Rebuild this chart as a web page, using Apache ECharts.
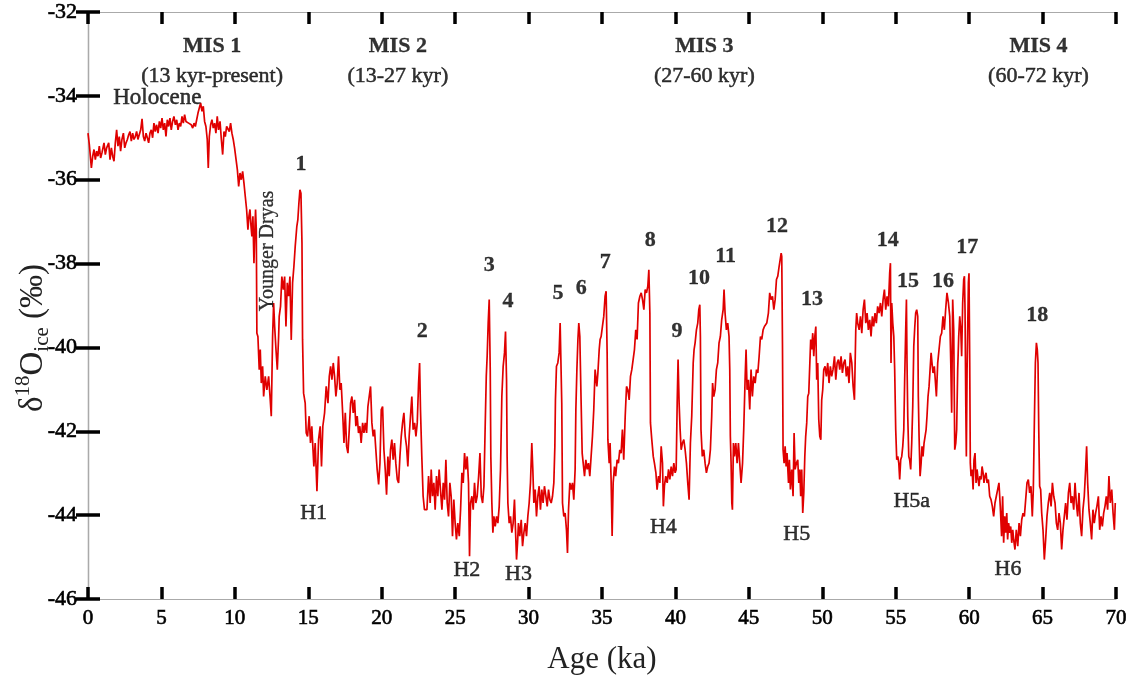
<!DOCTYPE html>
<html><head><meta charset="utf-8">
<script src="https://cdn.jsdelivr.net/npm/echarts@6/dist/echarts.min.js"></script>
<style>html,body{margin:0;padding:0;background:#fff}#c{width:1130px;height:682px}</style>
</head><body><div id="c"></div><script>
// ---- record: [age ka, d18O permil] ----
const holocene = [[0,-34.89],[0.09,-35.16],[0.23,-35.72],[0.32,-35.44],[0.41,-35.28],[0.5,-35.52],[0.59,-35.32],[0.68,-35.44],[0.77,-35.2],[0.86,-35.48],[0.95,-35.36],[1.09,-35.12],[1.18,-35.4],[1.27,-35.24],[1.41,-35.12],[1.5,-35.52],[1.59,-35.24],[1.68,-35.44],[1.77,-35.56],[1.86,-35.12],[1.95,-34.81],[2.04,-35.2],[2.13,-34.97],[2.22,-35.32],[2.31,-35.04],[2.41,-34.89],[2.5,-35.24],[2.59,-35.12],[2.68,-35.04],[2.77,-34.93],[2.86,-34.85],[2.95,-35.08],[3.04,-34.89],[3.13,-35.04],[3.22,-34.97],[3.31,-34.85],[3.4,-35.04],[3.49,-34.93],[3.59,-34.81],[3.68,-34.55],[3.77,-34.97],[3.86,-35.08],[3.95,-34.89],[4.04,-35.0],[4.13,-35.12],[4.22,-34.89],[4.31,-34.81],[4.4,-35.0],[4.49,-34.65],[4.58,-34.85],[4.67,-34.69],[4.77,-34.89],[4.86,-34.61],[4.95,-34.77],[5.04,-34.53],[5.13,-34.81],[5.22,-34.65],[5.31,-34.97],[5.4,-34.57],[5.49,-34.73],[5.58,-34.53],[5.67,-34.81],[5.76,-34.61],[5.85,-34.49],[5.95,-34.69],[6.04,-34.57],[6.13,-34.81],[6.22,-34.65],[6.31,-34.73],[6.4,-34.49],[6.49,-34.65],[6.58,-34.45],[6.67,-34.61],[6.76,-34.57],[6.85,-34.65],[6.94,-34.61],[7.03,-34.69],[7.13,-34.77],[7.22,-34.65],[7.31,-34.73],[7.4,-34.57],[7.49,-34.41],[7.58,-34.29],[7.67,-34.17],[7.76,-34.37],[7.85,-34.25],[7.94,-34.61],[8.03,-34.73],[8.12,-35.04],[8.19,-35.72],[8.26,-34.97],[8.35,-34.69],[8.44,-34.57],[8.53,-34.77],[8.62,-34.65],[8.71,-34.89],[8.8,-34.49],[8.89,-34.81],[8.99,-34.61],[9.08,-35.04],[9.17,-35.4],[9.26,-34.85],[9.35,-34.97],[9.44,-34.73],[9.53,-34.77],[9.62,-34.85],[9.71,-34.65],[9.8,-34.89],[9.89,-35.04],[9.98,-35.24],[10.07,-35.28],[10.17,-35.76],[10.26,-36.16],[10.35,-35.84],[10.44,-36.0],[10.53,-35.8],[10.62,-36.08],[10.71,-36.4],[10.8,-36.71],[10.89,-37.19],[10.96,-36.87],[11.03,-36.71],[11.1,-37.11],[11.16,-37.35],[11.23,-36.87],[11.3,-37.99],[11.37,-37.11],[11.41,-36.71],[11.46,-37.19]];
const deglacial = [[11.5,-39.66],[11.57,-39.74],[11.66,-40.53],[11.73,-40.05],[11.8,-40.85],[11.89,-40.45],[11.96,-41.17],[12.07,-40.69],[12.18,-41.01],[12.3,-40.69],[12.41,-41.25],[12.48,-41.64],[12.57,-39.74],[12.64,-38.94],[12.71,-39.5],[12.8,-40.05],[12.89,-40.53],[12.98,-39.74],[13.02,-39.26],[13.11,-39.02],[13.2,-38.31],[13.3,-38.62],[13.39,-38.31],[13.48,-39.5],[13.57,-38.46],[13.66,-38.78],[13.75,-38.31],[13.84,-39.82],[13.93,-38.46],[14.02,-38.07],[14.11,-37.59],[14.22,-37.11],[14.29,-36.95],[14.36,-36.56],[14.43,-36.24],[14.5,-36.32],[14.57,-37.51],[14.61,-39.82],[14.68,-41.09],[14.79,-41.33],[14.86,-42.04],[14.95,-42.12],[15.06,-41.64],[15.15,-42.28],[15.24,-41.88],[15.31,-42.36],[15.38,-42.84],[15.47,-42.28],[15.59,-43.43],[15.7,-42.2],[15.81,-41.88],[15.9,-42.84],[15.99,-41.88],[16.11,-41.56],[16.22,-40.93],[16.34,-41.33],[16.43,-40.69],[16.52,-40.45],[16.61,-40.77],[16.7,-40.37],[16.79,-40.69],[16.88,-41.17],[16.97,-40.85],[17.06,-40.21],[17.15,-41.01],[17.24,-40.85],[17.34,-41.56],[17.43,-42.28],[17.52,-41.56],[17.61,-42.36],[17.7,-42.52],[17.79,-41.96],[17.88,-41.33],[17.97,-41.17],[18.06,-41.56],[18.15,-41.25],[18.24,-41.88],[18.33,-41.64],[18.42,-42.04],[18.51,-41.88],[18.6,-42.28],[18.7,-41.8],[18.79,-42.04],[18.88,-41.8],[18.97,-42.04],[19.06,-41.41],[19.15,-41.17],[19.24,-40.93],[19.33,-41.8],[19.42,-42.12],[19.51,-41.96],[19.6,-42.44],[19.69,-42.91],[19.79,-43.27],[19.88,-42.76],[19.97,-41.48],[20.06,-41.41],[20.15,-42.44],[20.24,-42.91],[20.33,-43.51],[20.42,-42.6],[20.51,-43.07],[20.6,-42.44],[20.69,-42.2],[20.78,-42.68],[20.87,-42.28],[20.96,-42.76],[21.06,-43.15],[21.15,-43.23],[21.24,-42.6],[21.33,-42.12],[21.42,-41.8],[21.51,-41.56],[21.6,-42.12],[21.69,-42.36],[21.78,-42.84],[21.87,-42.12],[21.96,-41.64],[22.05,-41.17],[22.14,-41.96],[22.24,-41.8],[22.33,-42.12],[22.42,-41.8],[22.51,-40.85],[22.58,-40.37],[22.64,-41.48],[22.73,-42.6],[22.82,-43.55],[22.91,-43.87]];
const mis3early = [[23.08,-43.87],[23.19,-43.07],[23.3,-43.71],[23.37,-42.91],[23.46,-43.55],[23.55,-43.23],[23.64,-43.87],[23.73,-43.07],[23.82,-43.55],[23.91,-42.91],[24.0,-43.39],[24.1,-43.87],[24.19,-43.23],[24.28,-43.63],[24.37,-42.68],[24.46,-43.71],[24.55,-44.03],[24.64,-43.23],[24.73,-43.55],[24.82,-44.5],[24.91,-43.63],[25.0,-44.19],[25.09,-44.58],[25.18,-44.19],[25.28,-44.5],[25.37,-43.87],[25.46,-42.99],[25.55,-43.23],[25.64,-42.52],[25.73,-42.91],[25.82,-42.6],[25.91,-43.23],[25.98,-44.98],[26.05,-43.71],[26.14,-43.55],[26.23,-43.87],[26.32,-43.23],[26.41,-43.71],[26.5,-43.55],[26.6,-43.07],[26.69,-42.52],[26.78,-43.55],[26.87,-43.71],[26.96,-43.31],[27.05,-41.8],[27.12,-40.69],[27.18,-40.21],[27.25,-39.42],[27.32,-38.86],[27.39,-40.53],[27.43,-42.6],[27.5,-43.71],[27.57,-44.42],[27.64,-44.03],[27.73,-44.27],[27.82,-44.03],[27.91,-44.19],[28.0,-43.79],[28.09,-42.91],[28.18,-41.17],[28.27,-40.45],[28.36,-40.13],[28.43,-39.62],[28.5,-40.77],[28.54,-42.6],[28.59,-43.71],[28.68,-44.19],[28.77,-44.03],[28.86,-44.42],[28.95,-44.19],[29.04,-43.63],[29.11,-44.35],[29.18,-45.06],[29.25,-44.66],[29.31,-44.19],[29.4,-44.5],[29.5,-44.11],[29.59,-44.74],[29.68,-44.42],[29.77,-44.19],[29.86,-44.5],[29.95,-44.03],[30.04,-43.71],[30.13,-43.23],[30.22,-42.28],[30.29,-42.91],[30.36,-43.71],[30.45,-43.39],[30.54,-44.03],[30.63,-43.55],[30.72,-43.31],[30.81,-43.87],[30.9,-43.39],[30.99,-43.71],[31.08,-43.31],[31.18,-43.55],[31.27,-43.79],[31.36,-43.39],[31.45,-43.63],[31.54,-43.71],[31.63,-43.55],[31.72,-43.23],[31.79,-42.36],[31.83,-41.25],[31.9,-40.45],[31.99,-40.37],[32.08,-40.13],[32.15,-39.42],[32.22,-39.42],[32.26,-41.33],[32.31,-43.71],[32.4,-44.03],[32.49,-43.95],[32.58,-44.35],[32.65,-44.9],[32.72,-43.87],[32.81,-43.23],[32.9,-43.39],[32.99,-43.23],[33.08,-43.63],[33.17,-42.91],[33.22,-41.48],[33.29,-40.53],[33.36,-39.81],[33.42,-39.42],[33.49,-39.74],[33.58,-41.33],[33.65,-42.52],[33.72,-42.76],[33.81,-43.07],[33.9,-42.68],[33.99,-42.91],[34.08,-42.76],[34.17,-43.07],[34.26,-43.07],[34.35,-42.12],[34.44,-41.48]];
const mis3middle = [[34.53,-40.53],[34.65,-40.93],[34.72,-40.61],[34.81,-40.05],[34.87,-39.81],[34.94,-39.74],[35.03,-39.5],[35.12,-39.26],[35.21,-38.78],[35.28,-38.66],[35.35,-40.13],[35.4,-42.2],[35.49,-42.76],[35.55,-42.28],[35.62,-43.15],[35.69,-44.5],[35.76,-43.23],[35.85,-42.84],[35.93,-43.07],[36.03,-42.68],[36.12,-42.76],[36.21,-42.44],[36.3,-42.52],[36.39,-41.96],[36.48,-42.68],[36.58,-41.64],[36.67,-40.93],[36.76,-41.01],[36.85,-41.25],[36.94,-40.69],[37.03,-40.53],[37.12,-40.29],[37.21,-40.05],[37.3,-39.58],[37.39,-39.81],[37.48,-38.94],[37.58,-38.78],[37.67,-38.7],[37.76,-38.86],[37.85,-39.1],[37.94,-38.62],[38.03,-38.7],[38.12,-38.54],[38.19,-38.15],[38.26,-39.18],[38.3,-41.8],[38.39,-42.2],[38.49,-42.6],[38.57,-42.76],[38.67,-42.99],[38.75,-43.39],[38.85,-43.07],[38.94,-43.23],[39.03,-42.36],[39.12,-42.76],[39.18,-43.79],[39.25,-43.31],[39.34,-43.07],[39.44,-43.23],[39.53,-42.91],[39.62,-43.15],[39.71,-42.84],[39.8,-43.07],[39.89,-42.76],[39.98,-42.99],[40.05,-42.91],[40.12,-41.32],[40.18,-40.29],[40.25,-41.32],[40.32,-41.96],[40.39,-42.44],[40.48,-42.28],[40.57,-42.2],[40.66,-42.44],[40.75,-42.76],[40.84,-43.23],[40.93,-43.63],[41.02,-42.28],[41.11,-41.64],[41.21,-40.37],[41.27,-40.05],[41.34,-39.89],[41.43,-39.58],[41.52,-39.42],[41.59,-39.1],[41.66,-38.98],[41.7,-39.74],[41.74,-41.96],[41.83,-42.6],[41.93,-42.44],[42.02,-42.76],[42.11,-42.99],[42.2,-42.84],[42.29,-42.76],[42.38,-42.44],[42.47,-41.64],[42.53,-40.85],[42.61,-41.17],[42.7,-41.01],[42.79,-40.53],[42.88,-40.37],[42.97,-39.89],[43.06,-39.74],[43.15,-39.34],[43.25,-39.1],[43.31,-38.62],[43.38,-39.18],[43.47,-39.58],[43.56,-39.42],[43.65,-39.74],[43.7,-40.53],[43.74,-42.12],[43.79,-42.76],[43.84,-43.71],[43.88,-43.87],[43.95,-42.28],[44.02,-42.6],[44.11,-42.28],[44.2,-42.76],[44.29,-42.28],[44.38,-42.76],[44.47,-43.23],[44.57,-42.76],[44.65,-41.96],[44.75,-40.69],[44.81,-40.05],[44.88,-41.01],[44.97,-40.77],[45.06,-41.48],[45.15,-40.53],[45.24,-41.17],[45.33,-40.69],[45.43,-40.85],[45.52,-40.53],[45.61,-40.61],[45.7,-40.21],[45.79,-39.74],[45.88,-39.81],[45.97,-39.58],[46.06,-39.5]];
const mis3late = [[46.11,-39.5],[46.22,-39.42],[46.33,-39.18],[46.42,-38.7],[46.51,-38.86],[46.61,-38.78],[46.7,-39.1],[46.79,-38.86],[46.88,-38.38],[46.97,-38.3],[47.06,-38.07],[47.13,-37.91],[47.2,-37.75],[47.24,-37.83],[47.29,-39.97],[47.33,-42.44],[47.4,-42.76],[47.47,-42.36],[47.54,-42.84],[47.6,-42.52],[47.7,-43.23],[47.76,-42.68],[47.83,-43.39],[47.92,-42.91],[48.01,-43.55],[48.08,-42.04],[48.15,-42.91],[48.24,-42.76],[48.33,-42.68],[48.4,-43.23],[48.47,-42.91],[48.53,-43.55],[48.6,-42.91],[48.67,-43.95],[48.74,-43.47],[48.81,-42.6],[48.87,-42.12],[48.94,-41.8],[49.01,-41.17],[49.08,-41.09],[49.15,-41.09],[49.21,-39.81],[49.28,-40.05],[49.35,-39.66],[49.42,-40.21],[49.49,-39.74],[49.56,-39.5],[49.62,-40.77],[49.69,-40.37],[49.76,-41.72],[49.83,-42.12],[49.9,-42.2],[49.96,-41.25],[50.03,-41.01],[50.1,-40.53],[50.19,-40.45],[50.28,-40.69],[50.37,-40.37],[50.46,-40.85],[50.55,-40.45],[50.64,-40.69],[50.73,-40.53],[50.83,-40.21],[50.92,-40.77],[51.01,-40.37],[51.1,-40.29],[51.19,-40.53],[51.28,-40.21],[51.37,-40.61],[51.46,-40.37],[51.55,-40.29],[51.64,-40.69],[51.73,-40.45],[51.82,-40.85],[51.91,-40.13],[52.01,-40.37],[52.1,-40.93],[52.19,-41.25],[52.28,-39.58],[52.34,-39.18],[52.41,-39.42],[52.51,-39.58],[52.6,-39.26],[52.69,-39.66],[52.78,-39.1],[52.87,-38.86],[52.96,-39.42],[53.05,-39.18],[53.14,-39.58],[53.23,-39.34],[53.32,-39.74],[53.41,-39.26],[53.5,-39.5],[53.59,-39.18],[53.68,-39.42],[53.77,-39.02],[53.87,-39.18],[53.96,-38.94],[54.05,-39.26],[54.14,-38.86],[54.23,-38.62],[54.32,-39.1],[54.41,-38.78],[54.5,-39.02],[54.59,-38.22],[54.64,-37.99],[54.68,-40.37],[54.73,-38.94],[54.8,-39.42],[54.87,-39.74],[54.93,-40.53],[55.0,-41.96],[55.07,-42.68],[55.14,-42.6],[55.21,-42.76],[55.27,-43.15],[55.34,-42.68],[55.41,-42.6],[55.48,-42.36],[55.55,-41.96],[55.61,-40.77],[55.68,-39.58],[55.73,-38.86],[55.77,-40.37],[55.82,-41.64],[55.89,-42.6],[55.95,-42.68],[56.02,-42.91],[56.09,-42.28],[56.16,-41.4],[56.23,-39.97],[56.3,-39.5],[56.36,-39.18],[56.43,-39.1],[56.5,-39.26],[56.54,-41.17],[56.59,-42.12],[56.66,-43.07],[56.73,-42.76],[56.79,-42.36],[56.86,-42.6],[56.93,-42.28],[57.0,-42.12],[57.07,-41.96],[57.13,-41.64],[57.2,-41.17],[57.27,-40.93],[57.34,-40.53],[57.41,-40.13],[57.47,-40.37],[57.54,-40.61],[57.63,-40.45]];
const mis4 = [[57.77,-41.17],[57.86,-40.37],[57.95,-40.05],[58.04,-39.74],[58.13,-39.66],[58.22,-39.26],[58.31,-39.58],[58.4,-39.1],[58.49,-38.7],[58.59,-38.94],[58.68,-39.26],[58.75,-40.37],[58.81,-41.56],[58.88,-38.86],[58.95,-39.58],[59.02,-42.44],[59.09,-42.28],[59.15,-41.96],[59.22,-40.53],[59.29,-39.74],[59.36,-39.26],[59.43,-39.58],[59.49,-40.21],[59.56,-38.94],[59.63,-38.38],[59.68,-38.3],[59.72,-39.1],[59.77,-41.32],[59.81,-42.6],[59.86,-40.53],[59.9,-39.58],[59.95,-38.46],[59.99,-38.23],[60.04,-40.37],[60.08,-42.76],[60.13,-43.07],[60.2,-42.91],[60.27,-43.39],[60.33,-42.68],[60.4,-42.52],[60.47,-43.23],[60.54,-42.91],[60.61,-43.15],[60.67,-43.31],[60.74,-43.07],[60.81,-43.15],[60.88,-42.84],[60.95,-42.99],[61.01,-43.23],[61.08,-43.07],[61.15,-42.99],[61.22,-43.23],[61.31,-43.15],[61.4,-43.55],[61.49,-43.63],[61.58,-43.79],[61.67,-44.03],[61.76,-43.71],[61.85,-43.55],[61.94,-43.39],[62.03,-43.23],[62.12,-43.79],[62.21,-44.5],[62.28,-43.55],[62.35,-44.66],[62.42,-44.03],[62.49,-44.42],[62.56,-43.95],[62.62,-44.58],[62.69,-44.19],[62.76,-44.42],[62.83,-44.27],[62.9,-44.66],[62.97,-44.35],[63.03,-44.58],[63.12,-44.82],[63.21,-44.35],[63.31,-44.74],[63.4,-44.19],[63.49,-44.5],[63.58,-44.11],[63.67,-43.95],[63.76,-44.03],[63.85,-43.63],[63.94,-43.23],[64.03,-43.15],[64.12,-43.47],[64.21,-43.31],[64.3,-44.03],[64.37,-43.39],[64.44,-41.8],[64.51,-40.37],[64.58,-39.89],[64.64,-40.05],[64.69,-40.37],[64.74,-41.96],[64.8,-43.31],[64.87,-43.39],[64.94,-43.95],[65.03,-44.35],[65.12,-45.06],[65.21,-44.58],[65.3,-44.03],[65.39,-43.71],[65.49,-43.47],[65.58,-43.79],[65.67,-43.23],[65.76,-43.55],[65.85,-43.71],[65.94,-44.19],[66.03,-44.35],[66.12,-43.95],[66.21,-44.19],[66.3,-44.82],[66.39,-44.35],[66.48,-44.03],[66.57,-43.71],[66.66,-44.11],[66.76,-43.47],[66.85,-43.23],[66.94,-43.71],[67.03,-43.55],[67.12,-43.87],[67.21,-43.23],[67.3,-43.71],[67.39,-44.03],[67.48,-43.47],[67.57,-44.19],[67.66,-44.5],[67.75,-43.87],[67.84,-43.55],[67.93,-42.91],[68.0,-42.36],[68.07,-43.23],[68.16,-43.87],[68.25,-44.19],[68.34,-44.58],[68.43,-43.87],[68.52,-44.19],[68.61,-43.95],[68.7,-43.79],[68.8,-43.55],[68.89,-44.35],[68.98,-44.03],[69.07,-44.27],[69.16,-43.95],[69.25,-43.79],[69.34,-43.55],[69.43,-43.87],[69.52,-43.07],[69.61,-43.71],[69.71,-43.39],[69.8,-43.95],[69.89,-44.35],[69.95,-43.71]];

// ---- annotations ----
const misNames  = ['MIS 1', 'MIS 2', 'MIS 3', 'MIS 4'];
const misRanges = ['(13 kyr-present)', '(13-27 kyr)', '(27-60 kyr)', '(60-72 kyr)'];
const misAge    = [8.45, 21.1, 41.97, 64.72];
const misNameVal = -32.82, misRangeVal = -33.53;

const dsNames = ['1','2','3','4','5','6','7','8','9','10','11','12','13','14','15','16','17','18'];
const dsAge   = [14.5, 22.76, 27.32, 28.6, 32.0, 33.58, 35.22, 38.28, 40.1, 41.6, 43.42, 46.92, 49.3, 54.45, 55.84, 58.22, 59.87, 64.63];
const dsVal   = [-35.64, -39.62, -38.03, -38.9, -38.72, -38.58, -37.96, -37.45, -39.62, -38.36, -37.83, -37.1, -38.85, -37.45, -38.43, -38.42, -37.62, -39.24];

const hNames = ['H1','H2','H3','H4','H5','H5a','H6'];
const hAge   = [15.36, 25.8, 29.31, 39.18, 48.26, 56.09, 62.65];
const hVal   = [-43.95, -45.32, -45.4, -44.29, -44.45, -43.67, -45.3];

const otherNames = ['Holocene'];
const otherAge = [4.72];
const otherVal = [-34.05];
const ydName = 'Younger Dryas', ydAge = 12.25, ydVal = -37.7;

const ageTicks = { min: 0, max: 70, interval: 5 };
const valTicks = { min: -46, max: -32, interval: 2 };

const FONT = '"Liberation Serif", "Times New Roman", Times, serif';
const INK = '#000';
const record = [].concat(holocene, deglacial, mis3early, mis3middle, mis3late, mis4);

function pts(names, ages, vals) {
  return names.map((n, i) => ({ name: n, value: [ages[i], vals[i]] }));
}
function labelSeries(data, style) {
  return {
    type: 'scatter', data: data, symbolSize: 0.1, silent: true,
    itemStyle: { color: 'transparent' }, z: 5,
    label: Object.assign({ show: true, position: 'inside', formatter: p => p.name,
      color: INK, fontFamily: FONT, fontSize: 22, textBorderColor: INK, textBorderWidth: 0.5 }, style)
  };
}

const tick = { show: true, inside: true, length: 12, lineStyle: { color: '#000', width: 3.5 } };
const chart = echarts.init(document.getElementById('c'));
chart.setOption({
  animation: false,
  backgroundColor: '#fff',
  grid: { left: 88, right: 14, top: 12, bottom: 83, containLabel: false },
  xAxis: [
    { type: 'value', position: 'bottom', min: ageTicks.min, max: ageTicks.max, interval: ageTicks.interval,
      axisLine: { show: true, lineStyle: { color: '#aaa', width: 1.2 } }, axisTick: tick, splitLine: { show: false },
      axisLabel: { color: INK, fontFamily: FONT, fontSize: 21, margin: 9, textBorderColor: INK, textBorderWidth: 0.6 },
      name: 'Age (ka)', nameLocation: 'middle', nameGap: 45,
      nameTextStyle: { color: '#222', fontFamily: FONT, fontSize: 31 } },
    { type: 'value', position: 'top', min: ageTicks.min, max: ageTicks.max, interval: ageTicks.interval,
      axisLine: { show: true, lineStyle: { color: '#aaa', width: 1.2 } }, axisTick: tick, splitLine: { show: false },
      axisLabel: { show: false } }
  ],
  yAxis: [
    { type: 'value', position: 'left', min: valTicks.min, max: valTicks.max, interval: valTicks.interval,
      axisLine: { show: true, lineStyle: { color: '#666', width: 1.2 } }, axisTick: tick, splitLine: { show: false },
      axisLabel: { color: INK, fontFamily: FONT, fontSize: 22, margin: 11, textBorderColor: INK, textBorderWidth: 0.6 } },
    { type: 'value', position: 'right', min: valTicks.min, max: valTicks.max, interval: valTicks.interval,
      axisLine: { show: true, lineStyle: { color: '#aaa', width: 1.2 } }, axisTick: tick, splitLine: { show: false },
      axisLabel: { show: false } }
  ],
  graphic: [{
    type: 'text', x: 33, y: 338, rotation: Math.PI / 2,
    style: {
      text: '{m|δ}{sup|18}{m|O}{sub|ice}{m| (‰)}',
      align: 'center', verticalAlign: 'middle', fill: '#222',
      rich: {
        m: { fontFamily: FONT, fontSize: 33, lineHeight: 40, verticalAlign: 'middle', fill: '#222' },
        sup: { fontFamily: FONT, fontSize: 21, lineHeight: 26, verticalAlign: 'top', fill: '#222' },
        sub: { fontFamily: FONT, fontSize: 21, lineHeight: 26, verticalAlign: 'bottom', fill: '#222' }
      }
    }
  }],
  series: [
    { type: 'line', data: record, showSymbol: false, symbol: 'none', sampling: false,
      lineStyle: { color: '#e00000', width: 1.7 }, z: 3, silent: true },
    labelSeries(pts(misNames, misAge, misNames.map(() => misNameVal)), { fontWeight: 'bold', fontSize: 22, textBorderWidth: 0.3 }),
    labelSeries(pts(misRanges, misAge, misRanges.map(() => misRangeVal)), { fontSize: 22 }),
    labelSeries(pts(dsNames, dsAge, dsVal), { fontWeight: 'bold', fontSize: 22, textBorderWidth: 0.3 }),
    labelSeries(pts(hNames, hAge, hVal), { fontSize: 22 }),
    labelSeries(pts(otherNames, otherAge, otherVal), { fontSize: 23 }),
    labelSeries(pts([ydName], [ydAge], [ydVal]), { fontSize: 20, rotate: 90, textBorderWidth: 0.3 })
  ]
});
</script></body></html>
